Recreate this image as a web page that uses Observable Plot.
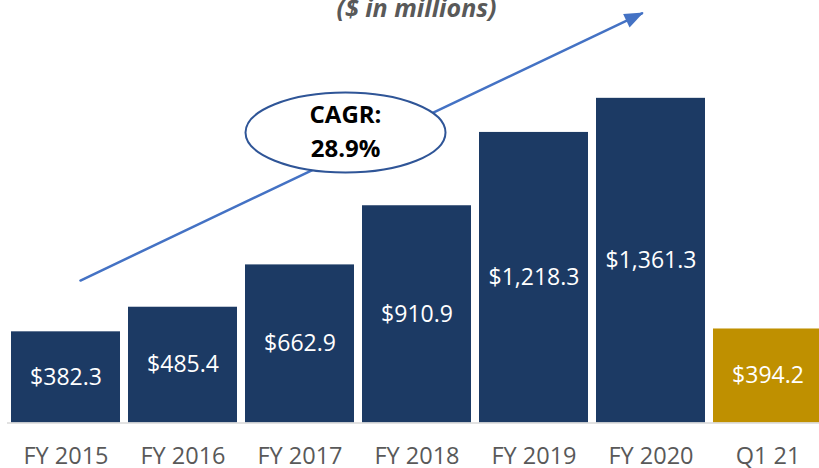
<!DOCTYPE html>
<html>
<head>
<meta charset="utf-8">
<script src="https://cdn.jsdelivr.net/npm/d3@7"></script>
<script src="https://cdn.jsdelivr.net/npm/@observablehq/plot@0.6"></script>
<style>
  html, body { margin: 0; padding: 0; background: #ffffff; }
  #chart svg { display: block; }
</style>
</head>
<body>
<div id="chart"></div>
<script>
// ---- data ----
const categories = ["FY 2015", "FY 2016", "FY 2017", "FY 2018", "FY 2019", "FY 2020", "Q1 21"];
const revenue = [382.3, 485.4, 662.9, 910.9, 1218.3, 1361.3, 394.2];
const periodType = ["annual", "annual", "annual", "annual", "annual", "annual", "quarter"];
const subtitle = "($ in millions)";
const cagrLabel = "CAGR:\n28.9%";
// growth-arrow annotation endpoints (category, value units)
const arrowStart = ["FY 2015", 568.6];
const arrowEnd = ["FY 2020", 1736];
const arrowTip = ["FY 2020", 1721];
const calloutAt = ["FY 2017", 1218];

const data = categories.map((c, i) => ({category: c, value: revenue[i], type: periodType[i]}));

const navy = "#1c3a64";
const gold = "#bf9000";
const arrowBlue = "#4472c4";

// custom ellipse symbol for the CAGR callout
const ellipseSymbol = {
  draw(ctx) {
    const rx = 100, ry = 40, k = 0.5523;
    ctx.moveTo(rx, 0);
    ctx.bezierCurveTo(rx, k * ry, k * rx, ry, 0, ry);
    ctx.bezierCurveTo(-k * rx, ry, -rx, k * ry, -rx, 0);
    ctx.bezierCurveTo(-rx, -k * ry, -k * rx, -ry, 0, -ry);
    ctx.bezierCurveTo(k * rx, -ry, rx, -k * ry, rx, 0);
    ctx.closePath();
  }
};
// filled arrowhead, tip at origin, pointing to +x
const headSymbol = {
  draw(ctx) {
    ctx.moveTo(0, 0);
    ctx.lineTo(-19, -7.5);
    ctx.lineTo(-19, 7.5);
    ctx.closePath();
  }
};

const fmt = d3.format(",.1f");

const chart = Plot.plot({
  width: 819,
  height: 468,
  marginTop: 0,
  marginLeft: 7,
  marginRight: 0,
  marginBottom: 45.5,
  style: {fontFamily: "'Open Sans', sans-serif", background: "#ffffff", overflow: "visible"},
  x: {domain: categories, range: [7, 826], paddingInner: 0.0684, paddingOuter: 0.0342, axis: null, label: null},
  y: {domain: [0, 1400], range: [422.5, 422.5 - 1400 * 0.2385], axis: null},
  marks: [
    Plot.barY(data, {x: "category", y: "value", fill: d => d.type === "quarter" ? gold : navy}),
    Plot.ruleY([0], {stroke: "#d9d9d9", strokeWidth: 1.5}),
    Plot.text(data, {
      x: "category", y: d => d.value / 2,
      text: d => "$" + fmt(d.value),
      fill: "white", fontSize: 23
    }),
    Plot.axisX({tickSize: 0, tickPadding: 24, fontSize: 23.5, fill: "#595959", label: null}),
    // growth arrow
    Plot.arrow([0], {
      x1: () => arrowStart[0], y1: () => arrowStart[1],
      x2: () => arrowEnd[0], y2: () => arrowEnd[1],
      insetStart: 16, insetEnd: 10, headLength: 0,
      stroke: arrowBlue, strokeWidth: 2.5
    }),
    Plot.dot([0], {
      x: () => arrowTip[0], y: () => arrowTip[1], dx: -7.5,
      symbol: headSymbol, rotate: -25.46, fill: arrowBlue, stroke: "none"
    }),
    // CAGR callout
    Plot.dot([0], {
      x: () => calloutAt[0], y: () => calloutAt[1], dx: 45.5,
      symbol: ellipseSymbol, fill: "white", stroke: "#2f5597", strokeWidth: 2
    }),
    Plot.text([cagrLabel], {
      x: () => calloutAt[0], y: () => calloutAt[1], dx: 45.5, dy: -3,
      text: d => d, fontSize: 24, fontWeight: "bold", fill: "black", lineHeight: 1.42
    }),
    // subtitle
    Plot.text([subtitle], {
      frameAnchor: "top", lineAnchor: "bottom", dy: 16, dx: 3,
      text: d => d, fontSize: 25, fontWeight: "bold", fontStyle: "italic", fill: "#595959"
    })
  ]
});
document.getElementById("chart").appendChild(chart);
</script>
</body>
</html>
